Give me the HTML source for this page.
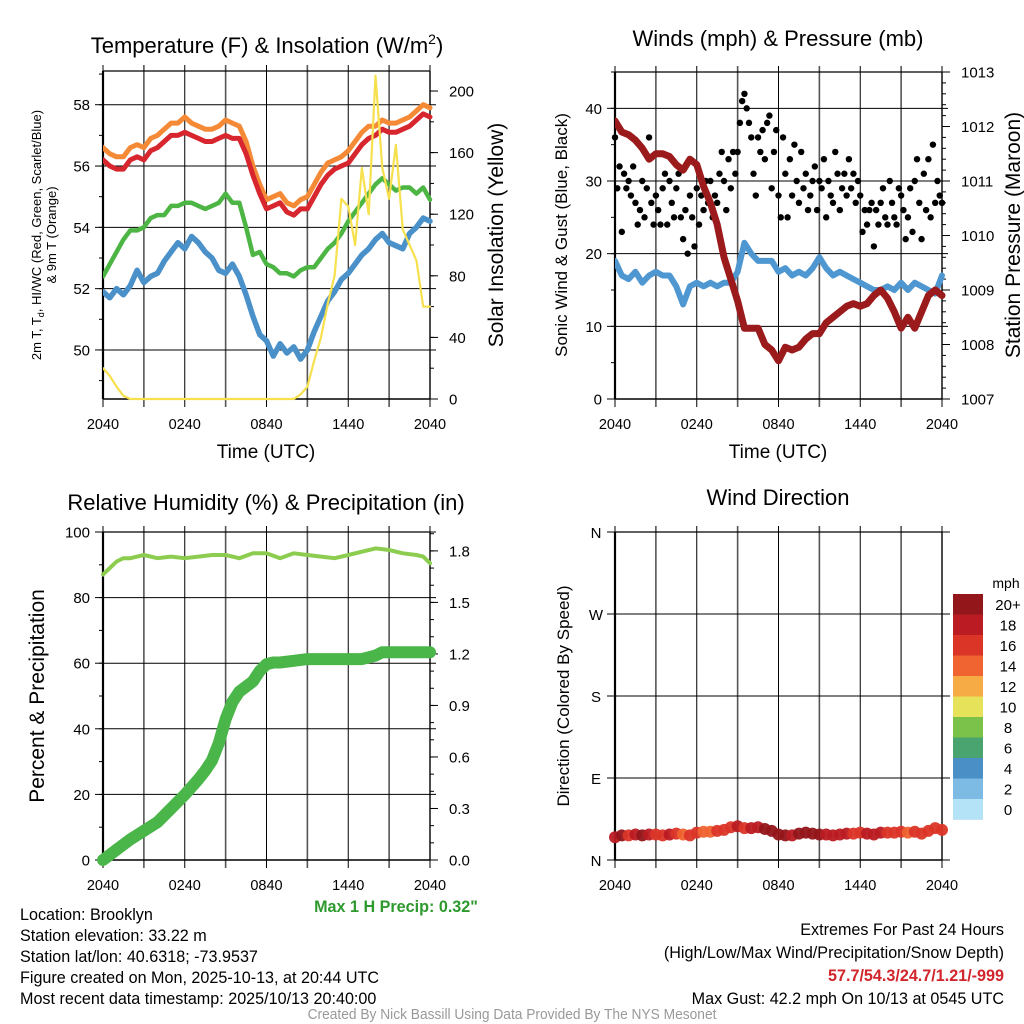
<!DOCTYPE html>
<html><head><meta charset="utf-8"><style>
html,body{margin:0;padding:0;background:#fff;}
svg{display:block;font-family:"Liberation Sans",sans-serif;}
</style></head><body>
<svg id="chart" width="1024" height="1024" viewBox="0 0 1024 1024" xmlns="http://www.w3.org/2000/svg">
<rect width="1024" height="1024" fill="#fff"/>
<g id="layer"></g>
</svg>
<script>
// ---------- data (hours since 2040 UTC) ----------
const timeLabels=["2040","0240","0840","1440","2040"];
const tempRed=[56.2,56.0,55.9,55.9,56.2,56.3,56.2,56.5,56.6,56.8,57.0,57.0,57.1,57.0,56.9,56.8,56.8,56.9,57.0,56.9,56.9,56.4,55.7,55.1,54.6,54.7,54.8,54.5,54.4,54.6,54.6,55.0,55.4,55.7,55.9,56.0,56.1,56.4,56.7,56.9,57.0,57.2,57.1,57.1,57.2,57.3,57.5,57.7,57.6];
const temp9m=[56.6,56.4,56.3,56.3,56.6,56.7,56.6,56.9,57.0,57.2,57.4,57.4,57.6,57.4,57.3,57.2,57.2,57.3,57.5,57.4,57.3,56.8,56.0,55.4,54.9,55.0,55.1,54.8,54.7,54.9,55.0,55.4,55.8,56.1,56.2,56.3,56.5,56.8,57.1,57.3,57.3,57.5,57.4,57.4,57.5,57.6,57.8,58.0,57.9];
const tempGreen=[52.4,52.8,53.2,53.6,53.9,53.9,54.0,54.3,54.4,54.4,54.7,54.7,54.8,54.8,54.7,54.6,54.7,54.8,55.1,54.8,54.8,54.0,53.1,53.2,52.8,52.7,52.5,52.5,52.4,52.6,52.7,52.7,53.0,53.3,53.5,53.8,54.2,54.5,54.8,55.1,55.4,55.6,55.4,55.2,55.3,55.3,55.1,55.3,54.9];
const tempBlue=[51.9,51.7,52.0,51.8,52.1,52.6,52.2,52.4,52.5,52.9,53.2,53.5,53.3,53.7,53.5,53.2,53.0,52.6,52.5,52.8,52.4,51.8,51.1,50.5,50.3,49.8,50.2,49.9,50.1,49.7,50.0,50.6,51.1,51.6,51.9,52.3,52.5,52.8,53.1,53.3,53.6,53.8,53.5,53.4,53.3,53.8,54.0,54.3,54.2];
const solar=[20,15,8,2,0,0,0,0,0,0,0,0,0,0,0,0,0,0,0,0,0,0,0,0,0,0,0,0,0,3,8,25,40,62,80,130,125,100,150,120,210,150,130,165,110,100,90,60,60];
const windBlue=[19,17,16.5,17.5,16,17,17.5,17,17,15.5,13,15.5,16,15.5,16,15.5,16,16,17.5,21.5,20,19,19,19,17.5,18,17,17.5,17,18,19.5,18,17,17.5,17,16.5,16,15.5,15,15,15.5,15,16,15,16,15.5,15,14.5,17];
const pressure=[1012.1,1011.9,1011.85,1011.75,1011.6,1011.4,1011.5,1011.5,1011.45,1011.3,1011.2,1011.4,1011.3,1010.9,1010.6,1010.2,1009.6,1009.2,1008.8,1008.3,1008.3,1008.3,1008.0,1007.9,1007.7,1007.95,1007.9,1007.95,1008.1,1008.2,1008.2,1008.4,1008.5,1008.6,1008.7,1008.75,1008.7,1008.75,1008.9,1009.0,1008.85,1008.6,1008.3,1008.5,1008.3,1008.6,1008.9,1009.0,1008.9];
const gusts=[36,29,32,23,31,29,30,28,32,27,24,26,30,25,29,36,27,24,28,26,24,29,31,24,30,27,25,29,31,25,22,26,20,28,25,21,29,24,28,26,30,27,30,25,28,27,31,34,30,26,33,29,34,31,34,38,41,42,40,38,36,31,28,36,34,37,33,38,39,29,34,37,28,25,36,31,25,33,28,35,30,27,34,29,31,26,28,30,32,26,30,29,33,25,30,28,27,34,31,26,29,31,28,33,29,31,27,30,28,23,26,24,26,27,21,26,24,27,29,25,24,30,27,25,24,29,28,26,22,25,29,23,30,33,27,22,31,26,33,25,35,27,30,28,27];
const rhHours=[0,0.5,1,1.5,2,3,4,5,6,7,8,9,10,11,12,13,14,15,16,17,18,19,20,21,22,23,23.5,24];
const rh=[87,89,91,92,92,93,92,92.5,92,92.5,93,93,92,93.5,93.5,92,93.5,93,92.5,92,93,94,95,94.5,93.5,93,92.5,90.5];
const precipHours=[0,1,2,3,4,5,6,7,7.5,8,8.5,9,9.5,10,11,11.5,12,12.5,13,14,15,16,17,18,19,20,20.5,24];
const precip=[0,0.06,0.12,0.17,0.22,0.30,0.38,0.47,0.52,0.58,0.68,0.82,0.92,0.98,1.04,1.10,1.14,1.15,1.15,1.16,1.17,1.17,1.17,1.17,1.17,1.19,1.21,1.21];
const windDir=[25,27,27,28,27,28,28,27,28,29,28,27,30,31,31,32,33,36,37,35,35,36,34,32,28,27,27,29,30,29,28,28,27,28,29,29,30,29,28,30,30,30,31,30,31,29,32,35,33];
const windSpd=[19,20,17,18,20,18,16,17,19,17,15,16,16,15,14,16,17,17,18,16,18,19,20,21,21,20,19,20,21,20,20,19,18,18,19,17,17,18,18,19,17,16,16,15,16,17,17,16,17];
const speedLabels=["20+","18","16","14","12","10","8","6","4","2","0"];
const speedColors=["#93161a","#bb1b22","#db3528","#ef6430","#f6ab45","#e6e25a","#7bc24a","#4aa46f","#4a8fc6","#7dbae4","#b4e3f7"];

// ---------- helpers ----------
const NS="http://www.w3.org/2000/svg";
const layer=document.getElementById('layer');
function el(tag,attrs,parent){const e=document.createElementNS(NS,tag);for(const k in attrs)e.setAttribute(k,attrs[k]);(parent||layer).appendChild(e);return e;}
function txt(s,x,y,size,anchor,extra,parent){const t=el('text',Object.assign({x:x,y:y,'font-size':size,'text-anchor':anchor||'middle',fill:'#000'},extra||{}),parent);t.textContent=s;return t;}
function ntxt(s,x,y,size,anchor,extra){const t=el('text',Object.assign({x:0,y:0,'font-size':size,'text-anchor':anchor||'start',fill:'#000',transform:'translate('+x+','+y+') scale(0.95,1)'},extra||{}));t.textContent=s;return t;}
function mkX(p){return h=>p.x0+h/24*(p.x1-p.x0);}
function mkY(p,lo,hi){return v=>p.y1-(v-lo)/(hi-lo)*(p.y1-p.y0);}

function frame(p,name){
  const g=el('g',{});
  
  
  const X=mkX(p);
  for(let h=0;h<=24;h+=3){
    const l=el('line',{x1:X(h),x2:X(h),y1:p.y0-6,y2:p.y1+8,stroke:(h%6==3)?'#555':'#000','stroke-width':(h%6==3)?1.6:1},g);
    
    
  }
  timeLabels.forEach((s,i)=>{const t=txt(s,X(i*6),p.y1+30,14.5,'middle',{},g);
    
    });
  el('line',{x1:p.x0,x2:p.x0,y1:p.y0,y2:p.y1,stroke:'#000','stroke-width':2.2},g);
  el('line',{x1:p.x1,x2:p.x1,y1:p.y0,y2:p.y1,stroke:'#000','stroke-width':1.4},g);
  el('line',{x1:p.x0,x2:p.x1,y1:p.y0,y2:p.y0,stroke:'#000','stroke-width':1.2},g);
  el('line',{x1:p.x0,x2:p.x1,y1:p.y1,y2:p.y1,stroke:'#000','stroke-width':1.4},g);
  return g;
}
function leftAxis(p,lo,hi,majors,minorStep,fmt,grid,name){
  const Y=mkY(p,lo,hi);const g=el('g',{});
  
  
  if(minorStep){for(let v=Math.ceil(lo/minorStep)*minorStep;v<=hi+1e-9;v+=minorStep){el('line',{x1:p.x0-4,x2:p.x0,y1:Y(v),y2:Y(v),stroke:'#000'},g);}}
  majors.forEach(v=>{
    if(grid)el('line',{x1:p.x0,x2:p.x1+6,y1:Y(v),y2:Y(v),stroke:'#000','stroke-width':1},g);
    el('line',{x1:p.x0-8,x2:p.x0,y1:Y(v),y2:Y(v),stroke:'#000'},g);
    const t=txt(fmt(v),p.x0-13,Y(v)+5.5,15,'end',{},g);
    
    
  });
  return Y;
}
function rightAxis(p,lo,hi,majors,minorStep,fmt,name){
  const Y=mkY(p,lo,hi);const g=el('g',{});
  
  
  if(minorStep){for(let v=Math.ceil(lo/minorStep)*minorStep;v<=hi+1e-9;v+=minorStep){el('line',{x1:p.x1,x2:p.x1+4,y1:Y(v),y2:Y(v),stroke:'#000'},g);}}
  majors.forEach(v=>{
    el('line',{x1:p.x1,x2:p.x1+8,y1:Y(v),y2:Y(v),stroke:'#000'},g);
    const t=txt(fmt(v),p.x1+19,Y(v)+5.5,15,'start',{},g);
    
    
  });
  return Y;
}
function line(xs,ys,X,Y,color,w,name,clip){
  const d=xs.map((h,i)=>(i?'L':'M')+X(h).toFixed(1)+','+Y(ys[i]).toFixed(1)).join('');
  const pth=el('path',{d:d,fill:'none',stroke:color,'stroke-width':w,'stroke-linejoin':'round','stroke-linecap':'round'});
  if(clip)pth.setAttribute('clip-path','url(#'+clip+')');
  
  
  return pth;
}
const half=n=>Array.from({length:n},(_,i)=>i*0.5);
function clip(id,p){const c=el('clipPath',{id:id});el('rect',{x:p.x0,y:p.y0-2,width:p.x1-p.x0+4,height:p.y1-p.y0+4},c);}

// ---------- Panel A: temperature ----------
const A={x0:103,x1:430,y0:71,y1:399};
clip('cA',A);
frame(A,'temperature');
const yA=leftAxis(A,48.4,59.1,[50,52,54,56,58],1,v=>String(v),true,'temperature-axis');
const yA2=rightAxis(A,0,213,[0,40,80,120,160,200],20,v=>String(v),'insolation-axis');
const XA=mkX(A);
line(half(49),tempBlue,XA,yA,'#4a90c9',5.5,'dewpoint-line','cA');
line(half(49),tempGreen,XA,yA,'#4db544',4.5,'green-line','cA');
line(half(49),temp9m,XA,yA,'#f58a36',5,'temp-9m-line','cA');
line(half(49),tempRed,XA,yA,'#d7262e',5,'temp-2m-line','cA');
line(half(49),solar,XA,yA2,'#f7e04d',2.2,'solar-line','cA');
let t=el('text',{x:267,y:53,'font-size':22,'text-anchor':'middle',fill:'#000'});

t.innerHTML='Temperature (F) &amp; Insolation (W/m<tspan font-size="14" dy="-9">2</tspan><tspan dy="9">)</tspan>';
t=txt('Time (UTC)',266,458,19,'middle');
t=el('text',{x:0,y:0,'font-size':13,'text-anchor':'middle',transform:'translate(41,235) rotate(-90)'});

t.innerHTML='2m T, T<tspan font-size="9" dy="3">d</tspan><tspan dy="-3">, HI/WC (Red, Green, Scarlet/Blue)</tspan>';
t=el('text',{x:0,y:0,'font-size':13,'text-anchor':'middle',transform:'translate(56,235) rotate(-90)'});t.textContent='& 9m T (Orange)';
t=el('text',{x:0,y:0,'font-size':21,'text-anchor':'middle',transform:'translate(503,235) rotate(-90)'});t.textContent='Solar Insolation (Yellow)';


// ---------- Panel B: winds ----------
const B={x0:615,x1:942,y0:72,y1:399};
clip('cB',B);
frame(B,'winds');
const yB=leftAxis(B,0,45,[0,10,20,30,40],5,v=>String(v),true,'wind-axis');
const yB2=rightAxis(B,1007,1013,[1007,1008,1009,1010,1011,1012,1013],0.2,v=>String(v),'pressure-axis');
const XB=mkX(B);
line(half(49),windBlue,XB,yB,'#4f97d1',6,'sonic-wind-line','cB');
gusts.forEach((v,i)=>{const c=el('circle',{cx:XB(i/6),cy:yB(v),r:3.2,fill:'#000'});
  });
line(half(49),pressure,XB,yB2,'#9b1a1c',7,'pressure-line','cB');
txt('Winds (mph) & Pressure (mb)',778,46,22,'middle');
txt('Time (UTC)',778,458,19,'middle');
t=el('text',{x:0,y:0,'font-size':17,'text-anchor':'middle',transform:'translate(567,235) rotate(-90)'});t.textContent='Sonic Wind & Gust (Blue, Black)';

t=el('text',{x:0,y:0,'font-size':21,'text-anchor':'middle',transform:'translate(1020,235) rotate(-90)'});t.textContent='Station Pressure (Maroon)';


// ---------- Panel C: humidity ----------
const C={x0:103,x1:430,y0:532,y1:860};
frame(C,'humidity');
const yC=leftAxis(C,0,100,[0,20,40,60,80,100],10,v=>String(v),true,'humidity-axis');
const yC2=rightAxis(C,0,1.91,[0,0.3,0.6,0.9,1.2,1.5,1.8],0.1,v=>v.toFixed(1),'precip-axis');
const XC=mkX(C);
line(rhHours,rh,XC,yC,'#8ccd4f',4,'rh-line');
line(precipHours,precip,XC,yC2,'#4ab548',12,'precip-line');
txt('Relative Humidity (%) & Precipitation (in)',266,510,22,'middle');
t=el('text',{x:0,y:0,'font-size':21,'text-anchor':'middle',transform:'translate(44,696) rotate(-90)'});t.textContent='Percent & Precipitation';

t=ntxt('Max 1 H Precip: 0.32"',396,912,17,'middle',{fill:'#2e9a2e','font-weight':'bold'});

// ---------- Panel D: wind direction ----------
const D={x0:615,x1:942,y0:532,y1:860};
frame(D,'wind-direction');
const yD=mkY(D,0,360);
['N','E','S','W','N'].forEach((s,i)=>{const v=i*90;
  el('line',{x1:D.x0-8,x2:D.x1+8,y1:yD(v),y2:yD(v),stroke:'#000'});
  const tt=txt(s,D.x0-19,yD(v)+6,15,'middle');});
const XD=mkX(D);
function spdColor(s){const idx=Math.min(10,Math.floor(s/2));return speedColors[10-idx];}
windDir.forEach((d,i)=>{const c=el('circle',{cx:XD(i*0.5),cy:yD(d),r:6,fill:spdColor(windSpd[i]),opacity:0.95});
  });
txt('Wind Direction',778,505,22,'middle');
t=el('text',{x:0,y:0,'font-size':17,'text-anchor':'middle',transform:'translate(569,696) rotate(-90)'});t.textContent='Direction (Colored By Speed)';

// colorbar
const cb=el('g',{});
speedLabels.forEach((s,i)=>{const y=594+i*20.5;
  const r=el('rect',{x:953,y:y,width:30,height:20.8,fill:speedColors[i]},cb);
  
  txt(s,1008,y+16,15,'middle',{},cb);});
txt('mph',1006,588,14,'middle',{},cb);

// ---------- footer text ----------
const info=["Location: Brooklyn","Station elevation: 33.22 m","Station lat/lon: 40.6318; -73.9537","Figure created on Mon, 2025-10-13, at 20:44 UTC","Most recent data timestamp: 2025/10/13 20:40:00"];
info.forEach((s,i)=>{const tt=ntxt(s,20,920+i*21,17,'start');});
ntxt('Extremes For Past 24 Hours',1004,935,17,'end');
ntxt('(High/Low/Max Wind/Precipitation/Snow Depth)',1004,958,17,'end');
ntxt('57.7/54.3/24.7/1.21/-999',1004,981,17,'end',{fill:'#d0262c','font-weight':'bold'});
ntxt('Max Gust: 42.2 mph On 10/13 at 0545 UTC',1004,1004,17,'end');
ntxt('Created By Nick Bassill Using Data Provided By The NYS Mesonet',512,1019,14.5,'middle',{fill:'#999'});
</script>
</body></html>
